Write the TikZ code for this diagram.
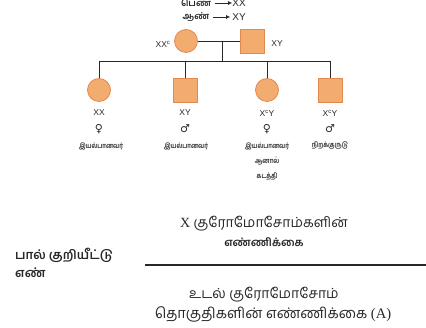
\documentclass[tikz,border=0pt]{standalone}
\usepackage{fontspec}
\usetikzlibrary{arrows.meta}
\setmainfont{Liberation Serif}
\newfontfamily\tam[Script=Tamil]{Hind Madurai}
\newfontfamily\tamn[Script=Tamil,FakeStretch=0.82]{Hind Madurai}
\newfontfamily\lsans{Liberation Sans}
\newfontfamily\djv{DejaVu Sans}
\definecolor{pfill}{RGB}{243,172,112}
\definecolor{pdraw}{RGB}{226,138,78}
\definecolor{ink}{RGB}{40,40,40}
\begin{document}
\begin{tikzpicture}[x=1pt,y=-1pt,
  fem/.style={circle,draw=pdraw,fill=pfill,line width=0.8pt,minimum size=23pt,inner sep=0pt},
  mal/.style={rectangle,draw=pdraw,fill=pfill,line width=0.8pt,minimum size=24pt,inner sep=0pt},
  lnk/.style={draw=ink,line width=0.6pt},
  geno/.style={font=\lsans\fontsize{8.5}{9}\selectfont,text=ink,inner sep=0pt},
  sym/.style={font=\djv\fontsize{11}{11}\selectfont,text=ink,inner sep=0pt},
  tsmall/.style={font=\tamn\bfseries\fontsize{7.2}{8}\selectfont,text=ink,inner sep=0pt},
  tbig/.style={font=\tam\fontsize{14}{15}\selectfont,text=ink,inner sep=0pt},
  tmid/.style={font=\tam\bfseries\fontsize{12.5}{13}\selectfont,text=ink,inner sep=0pt,anchor=west}]
\useasboundingbox[fill=white] (0,0) rectangle (426,328);
% top legend (partly cut)
\node[tsmall,font=\tam\bfseries\fontsize{9}{9}\selectfont] (lf) at (196,3) {பெண்};
\node[geno,font=\lsans\fontsize{10}{10}\selectfont] (lfx) at (239,3) {XX};
\node[tsmall,font=\tam\bfseries\fontsize{9}{9}\selectfont] (lm) at (196,17) {ஆண்};
\node[geno,font=\lsans\fontsize{10}{10}\selectfont] (lmx) at (239,17) {XY};
\draw[draw=ink,line width=0.7pt,-{Latex[length=4pt,width=4pt]}] (lf.east) ++(4,0) -- (lfx.west);
\draw[draw=ink,line width=0.7pt,-{Latex[length=4pt,width=4pt]}] (lm.east) ++(4,0) -- ([xshift=-2pt]lmx.west);
% parents
\node[fem] (mo) at (186,41) {};
\node[mal] (fa) at (252,41) {};
\node[geno] (mol) at (163,44) {XX\textsuperscript{c}};
\node[geno] (fal) at (277,44) {XY};
\coordinate (mid) at (222,41);
\coordinate (sib) at (222,61);
\draw[lnk] (mo.east) -- (fa.west);
\draw[lnk] (mid) -- (sib);
% children
\node[fem] (c1) at (99,90) {};
\node[mal] (c2) at (185,90) {};
\node[fem] (c3) at (267,90) {};
\node[mal] (c4) at (330,90) {};
\coordinate (j1) at (99,61);
\coordinate (j2) at (185,61);
\coordinate (j3) at (267,61);
\coordinate (j4) at (330,61);
\draw[lnk] (j1) -- (j4);
\draw[lnk] (j1) -- (c1.north);
\draw[lnk] (j2) -- (c2.north);
\draw[lnk] (j3) -- (c3.north);
\draw[lnk] (j4) -- (c4.north);
% child labels
\node[geno] (g1) at (99,113) {XX};
\node[geno] (g2) at (185,113) {XY};
\node[geno] (g3) at (267,113) {X\textsuperscript{c}Y};
\node[geno] (g4) at (330,113) {X\textsuperscript{c}Y};
\node[sym] (s1) at (99,129) {♀};
\node[sym] (s2) at (185,129) {♂};
\node[sym] (s3) at (267,129) {♀};
\node[sym] (s4) at (330,129) {♂};
\node[tsmall] (d1) at (101,146) {இயல்பானவர்};
\node[tsmall] (d2) at (186,146) {இயல்பானவர்};
\node[tsmall] (d3) at (267,146) {இயல்பானவர்};
\node[tsmall] (d3b) at (267,161) {ஆனால்};
\node[tsmall] (d3c) at (267,176) {கடத்தி};
\node[tsmall] (d4) at (330,146) {நிறக்குருடு};
% formula
\node[tbig] (num1) at (264,224) {{\rmfamily X} குரோமோசோம்களின்};
\node[tsmall,font=\tam\bfseries\fontsize{11}{12}\selectfont] (num2) at (264,242) {எண்ணிக்கை};
\coordinate (fl) at (145,265);
\coordinate (fr) at (426,265);
\draw[draw=ink,line width=1.2pt] (fl) -- (fr);
\node[tmid] (sx1) at (15,255) {பால் குறியீட்டு};
\node[tmid] (sx2) at (15,273) {எண்};
\node[tbig] (den1) at (264,295) {உடல் குரோமோசோம்};
\node[tbig,font=\tam\fontsize{14.6}{15}\selectfont] (den2) at (273,314) {தொகுதிகளின் எண்ணிக்கை {\rmfamily (A)}};
\end{tikzpicture}
\end{document}
